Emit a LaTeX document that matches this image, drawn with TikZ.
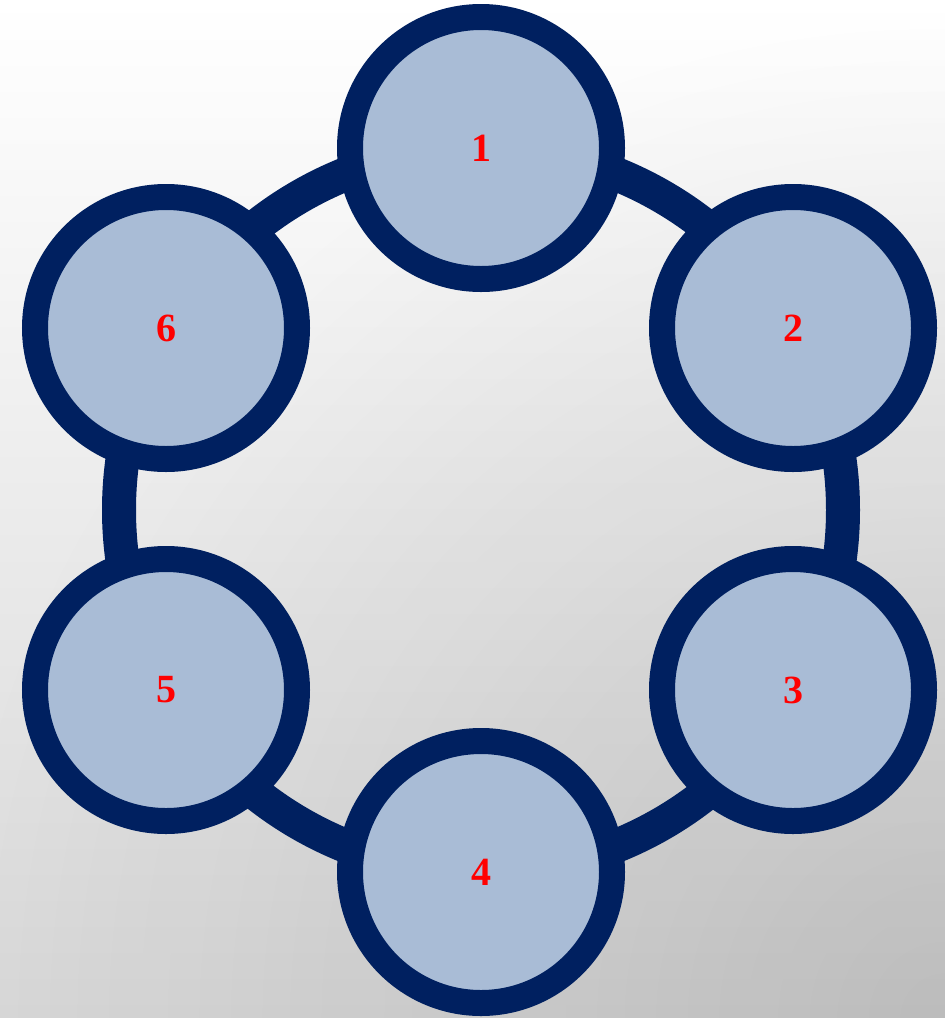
\documentclass[tikz,border=0pt]{standalone}
\usepackage{fontspec}
\setmainfont{Liberation Serif}
\usetikzlibrary{fadings}
\tikzfading[name=cornerfade, inner color=transparent!0, outer color=transparent!100]
\definecolor{navy}{HTML}{002060}
\definecolor{disc}{HTML}{A9BCD6}
\definecolor{bgtop}{HTML}{FFFFFF}
\definecolor{bgmid}{HTML}{F1F1F1}
\definecolor{bgbot}{HTML}{D8D8D8}
\definecolor{numred}{HTML}{FF0000}
\tikzset{
  stage/.style={circle, draw=navy, line width=26pt, fill=disc, minimum size=262pt, inner sep=0pt,
    font=\fontsize{40}{40}\selectfont\bfseries, text=numred},
  ringline/.style={draw=navy, line width=34pt}
}
\begin{document}
\begin{tikzpicture}[x=1pt,y=-1pt]
\useasboundingbox (0,0) rectangle (945,1018);
\shade[top color=bgtop, middle color=bgmid, bottom color=bgbot] (0,0) rectangle (945,1018);
\begin{scope}
\clip (0,0) rectangle (945,1018);
\fill[black, opacity=0.13, path fading=cornerfade] (945,1018) circle[radius=1000];
\end{scope}
\coordinate (ctr) at (481,510);
\draw[ringline] (ctr) circle[radius=362];
\node[stage] (c1) at (481,148) {1};
\node[stage] (c2) at (793,328) {2};
\node[stage] (c3) at (793,690) {3};
\node[stage] (c4) at (481,872) {4};
\node[stage] (c5) at (166,690) {5};
\node[stage] (c6) at (166,328) {6};
\end{tikzpicture}
\end{document}
